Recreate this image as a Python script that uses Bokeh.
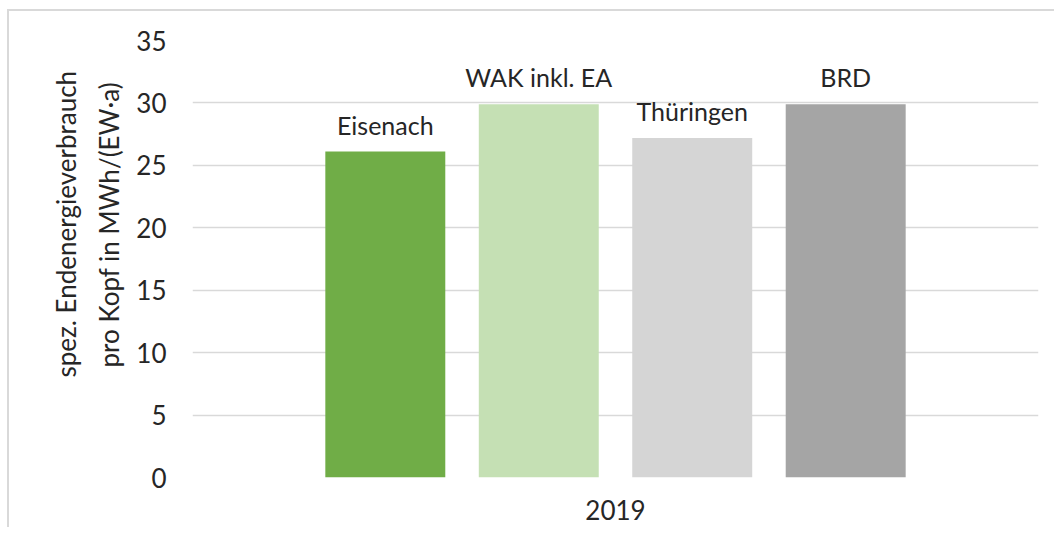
from bokeh.plotting import figure
from bokeh.models import ColumnDataSource, FactorRange, Range1d, FixedTicker, Title
from bokeh.transform import dodge
from bokeh.core.properties import value
from bokeh.embed import file_html
from bokeh.resources import INLINE

# ---- data ----
years = ["2019"]
series = ["Eisenach", "WAK inkl. EA", "Thüringen", "BRD"]
values = [26.1, 29.9, 27.2, 29.9]
colors = ["#70ad47", "#c5e0b4", "#d5d5d5", "#a5a5a5"]
y_ticks = [0, 5, 10, 15, 20, 25, 30, 35]
y_label_1 = "spez. Endenergieverbrauch"
y_label_2 = "pro Kopf in MWh/(EW·a)"

# ---- style ----
FONT = "Lato"
TXT = "#262626"
GRID = "#d9d9d9"
BAR_W = 0.1418
STEP = 0.1814

p = figure(
    x_range=FactorRange(factors=years, range_padding=0),
    y_range=Range1d(0, 35),
    frame_width=846, frame_height=437,
    min_border_left=183, min_border_right=16,
    min_border_top=29, min_border_bottom=50,
    output_backend="svg", toolbar_location=None,
)
p.styles = {"border-left": f"2px solid {GRID}", "border-top": f"2px solid {GRID}",
            "margin-left": "7px", "margin-top": "9px"}
p.outline_line_color = None
p.background_fill_color = "white"
p.border_fill_color = "white"

for i, (name, val, col) in enumerate(zip(series, values, colors)):
    src = ColumnDataSource(dict(year=years, value=[val], name=[name]))
    off = (i - (len(series) - 1) / 2) * STEP
    p.vbar(x=dodge("year", off, range=p.x_range), top="value", width=BAR_W,
           source=src, fill_color=col, line_color=None)
    p.text(x=dodge("year", off, range=p.x_range), y="value", text="name", source=src,
           text_align="center", text_baseline="alphabetic", y_offset=-27,
           text_font=value(FONT), text_font_size="25px", text_color=TXT)

# axes
p.yaxis.ticker = FixedTicker(ticks=y_ticks)
p.yaxis.axis_line_color = None
p.yaxis.major_tick_line_color = None
p.yaxis.minor_tick_line_color = None
p.yaxis.major_label_standoff = 20
p.yaxis.major_label_text_font = FONT
p.yaxis.major_label_text_font_size = "26px"
p.yaxis.major_label_text_color = TXT

p.xaxis.axis_line_color = None
p.xaxis.major_tick_line_color = None
p.xaxis.major_label_standoff = 16
p.xaxis.major_label_text_font = FONT
p.xaxis.major_label_text_font_size = "26px"
p.xaxis.major_label_text_color = TXT

p.xgrid.grid_line_color = None
p.ygrid.grid_line_color = GRID
p.ygrid.grid_line_width = 1.5
p.ygrid.ticker = FixedTicker(ticks=y_ticks)

for txt, off, so in ((y_label_2, 110, 18), (y_label_1, 100, 0)):
    p.add_layout(Title(text=txt, align="left", offset=off, text_font=FONT,
                       text_font_size="26px", text_font_style="normal",
                       text_color=TXT, standoff=so), "left")

open("out.html", "w").write(file_html(p, INLINE))
